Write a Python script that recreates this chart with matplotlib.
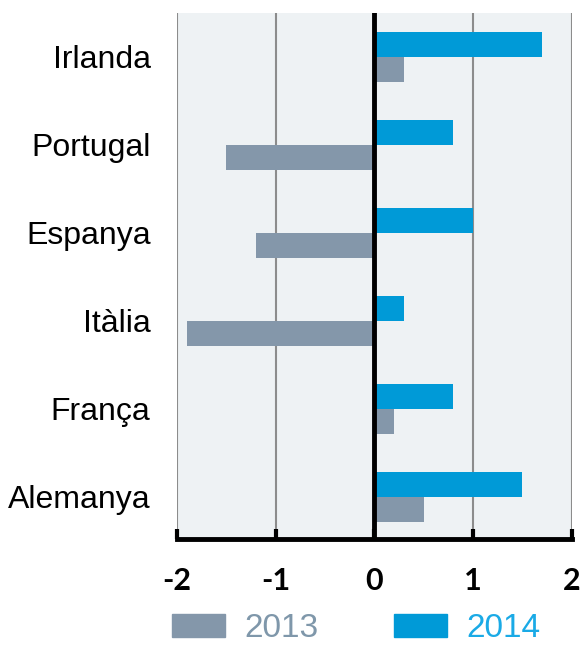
import matplotlib
matplotlib.use("Agg")
import matplotlib.pyplot as plt
from matplotlib.patches import Patch
import numpy as np

countries = ["Irlanda", "Portugal", "Espanya", "Itàlia", "França", "Alemanya"]
vals_2013 = [0.3, -1.5, -1.2, -1.9, 0.2, 0.5]
vals_2014 = [1.7, 0.8, 1.0, 0.3, 0.8, 1.5]
xticks = [-2, -1, 0, 1, 2]
series_labels = ["2013", "2014"]

c2013 = "#8497AA"
c2014 = "#009AD7"

fig = plt.figure(figsize=(5.84, 6.48), dpi=100)
ax = fig.add_axes([0.303, 0.168, 0.676, 0.812])
ax.set_facecolor("#EEF2F4")

n = len(countries)
pos = np.arange(n)[::-1]
h = 0.28
ax.barh(pos + h / 2, vals_2014, height=h, color=c2014, zorder=3)
ax.barh(pos - h / 2, vals_2013, height=h, color=c2013, zorder=3)

ax.set_xlim(-2, 2)
ax.set_ylim(-0.48, 5.5)
for xv in xticks:
    if xv != 0:
        ax.axvline(xv, color="#8C8C8C", lw=1.5, zorder=1)
ax.axvline(0, color="black", lw=3.5, zorder=4)

for s in ["left", "right", "top"]:
    ax.spines[s].set_visible(False)
ax.spines["bottom"].set_linewidth(3.5)
ax.spines["bottom"].set_color("black")
ax.spines["bottom"].set_zorder(5)

ax.set_xticks(xticks)
ax.set_xticklabels([str(x) for x in xticks], fontsize=22, fontweight="bold",
                   family="Lato")
ax.tick_params(axis="x", direction="in", length=7, width=3, pad=20)
ax.set_yticks(pos)
ax.set_yticklabels(countries, fontsize=23, family="Liberation Sans")
ax.tick_params(axis="y", length=0, pad=19)

handles = [Patch(color=c2013), Patch(color=c2014)]
leg = fig.legend(handles, series_labels, loc="center", bbox_to_anchor=(0.61, 0.03),
                 ncol=2, frameon=False, prop={"family": "Liberation Sans", "size": 24},
                 handlelength=1.59, handleheight=0.69, handletextpad=0.6,
                 columnspacing=2.25)
for t, c in zip(leg.get_texts(), ["#7F97AA", "#1AAAE6"]):
    t.set_color(c)

fig.savefig("out.png", dpi=100)
